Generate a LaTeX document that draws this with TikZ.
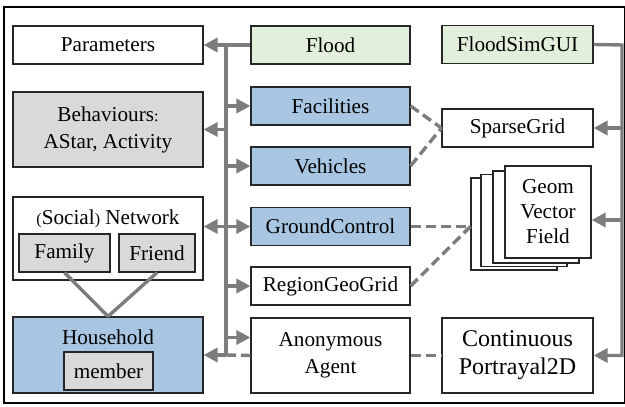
\documentclass[tikz,border=0pt]{standalone}
\usepackage{fontspec}
\setmainfont{Liberation Serif}
\usetikzlibrary{
	positioning				% Allows relative placement of nodes
	, arrows.meta			% Allows Triangle style arrow tips
}
\definecolor{floodgreen}{RGB}{226,239,218}
\definecolor{agentblue}{RGB}{168,197,226}
\definecolor{rulegrey}{RGB}{217,217,217}
\definecolor{wiregrey}{RGB}{125,125,125}

\begin{document}
\begin{tikzpicture}[
		x=0.5pt, y=-0.5pt
		, font=\fontsize{10.6}{13.5}\selectfont
		, box/.style={draw=black!85, line width=0.6pt, fill=white, align=center, inner sep=0pt}
		, greenbox/.style={box, fill=floodgreen}
		, bluebox/.style={box, fill=agentblue}
		, greybox/.style={box, fill=rulegrey}
		, leftbox/.style={minimum width=95pt, minimum height=19pt}
		, midbox/.style={minimum width=79.5pt, minimum height=19pt}
		, rightbox/.style={minimum width=75.5pt, minimum height=19pt}
		, sheet/.style={box, minimum width=43pt, minimum height=46pt}
		, wire/.style={draw=wiregrey, line width=1.7pt}
		, uses/.style={wire, -{Triangle[length=7pt,width=7pt]}}
		, link/.style={wire, dash pattern=on 5pt off 2.5pt}
	]
	\useasboundingbox (0,0) rectangle (625,406);
	\draw[line width=0.8pt] (4,7) rectangle (624.5,403);

	% Left column
	\node[box, leftbox] (params) at (108,45) {Parameters};
	\node[greybox, leftbox, minimum height=37.5pt] (behav) at (108,129.5) {Behaviours{\footnotesize:}\\AStar, Activity};
	\node[box, leftbox, minimum height=41.5pt] (network) at (108,238.5) {};
	\node (nettitle) at (108,219) {{\footnotesize(}Social{\footnotesize)} Network};
	\node[greybox, minimum width=45.5pt, minimum height=19pt] (family) at (64.5,253) {Family};
	\node[greybox, minimum width=38pt, minimum height=19pt] (friend) at (157,253) {Friend};
	\node[bluebox, leftbox, minimum height=38pt] (household) at (108,355) {};
	\node (hhtitle) at (108,337) {Household};
	\node[greybox, minimum width=44.5pt, minimum height=19pt] (member) at (108.5,371) {member};

	% Middle column
	\node[greenbox, midbox] (flood) at (330.5,45) {Flood};
	\node[bluebox, midbox] (facilities) at (330.5,106) {Facilities};
	\node[bluebox, midbox] (vehicles) at (330.5,166) {Vehicles};
	\node[bluebox, midbox] (ground) at (330.5,226.5) {GroundControl};
	\node[box, midbox] (region) at (330.5,286) {RegionGeoGrid};
	\node[box, midbox, minimum height=37.5pt] (anon) at (330.5,355.5) {Anonymous\\Agent};

	% Right column
	\node[greenbox, rightbox] (floodgui) at (517.5,44.5) {FloodSimGUI};
	\node[box, rightbox] (sparse) at (517.5,128) {SparseGrid};
	\foreach \dx/\dy [count=\i] in {-34/12, -24/8.5, -12/5} {
		\node[sheet] (sheet\i) at (548+\dx,212+\dy) {};
	}
	\node[sheet, font=\fontsize{10.6}{12.5}\selectfont] (geom) at (548,212) {Geom\\Vector\\Field};
	\node[box, rightbox, minimum height=37.5pt, font=\fontsize{12}{14}\selectfont] (contin) at (517.5,355.5) {Continuous\\Portrayal2D};

	% Bus from Flood down to Household
	\coordinate (bustop) at (226,45);
	\coordinate (busbottom) at (226,355);
	\coordinate (anonin) at ([yshift=9pt]anon.west);
	\draw[uses] (flood.west) -- (params.east);
	\draw[wire] (bustop) -- (busbottom);
	\draw[uses] (bustop |- behav) -- (behav.east);
	\draw[uses] (bustop |- facilities) -- (facilities.west);
	\draw[uses] (bustop |- vehicles) -- (vehicles.west);
	\draw[uses] (bustop |- ground) -- (network.east |- ground);
	\draw[uses] (bustop |- ground) -- (ground.west);
	\draw[uses] (bustop |- region) -- (region.west);
	\draw[uses] (bustop |- anonin) -- (anonin);
	\draw[uses] (busbottom) -- (household.east);
	\draw[link] (busbottom) -- (anon.west);

	% Bus from FloodSimGUI down to the portrayal
	\coordinate (guibus) at (622,45);
	\coordinate (geomin) at ([yshift=-4pt]geom.east);
	\draw[uses] (floodgui.east) -- (guibus) -- (guibus |- contin) -- (contin.east);
	\draw[uses] (guibus |- sparse) -- (sparse.east);
	\draw[uses] (guibus |- geomin) -- (geomin);

	% Dashed links to the fields
	\draw[link] (facilities.east) -- (sparse.west);
	\draw[link] (vehicles.east) -- (sparse.west);
	\draw[link] (ground.east) -- (sheet1.west |- ground);
	\draw[link] (region.east) -- (sheet1.west |- ground);
	\draw[link] (anon.east) -- (contin.west);

	% Network members of a household
	\draw[wire] (family.south) -- (household.north);
	\draw[wire] (friend.south) -- (household.north);
\end{tikzpicture}
\end{document}
